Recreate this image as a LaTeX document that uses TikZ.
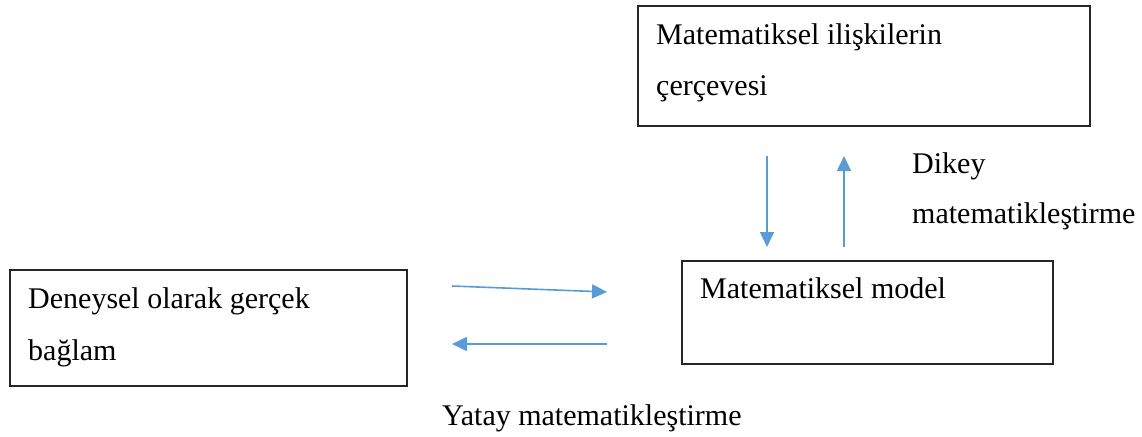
\documentclass[tikz,border=0pt]{standalone}
\usepackage{fontspec}
\setmainfont{Liberation Serif}
\usetikzlibrary{arrows.meta}
\definecolor{flowblue}{HTML}{5B9BD5}
\definecolor{edge}{HTML}{262626}
\begin{document}
\begin{tikzpicture}[x=1pt,y=-1pt,
  panel/.style={draw=edge, line width=1.8pt, inner sep=0pt, anchor=north west},
  txt/.style={anchor=base west, inner sep=0pt, font=\fontsize{30}{36}\selectfont},
  flow/.style={draw=flowblue, line width=1.6pt, -{Triangle[width=14pt,length=15pt]}}]
\useasboundingbox[fill=white] (0,0) rectangle (1142,436);

% boxes
\node[panel, minimum width=452pt, minimum height=120pt] (frame) at (637,5) {};
\node[panel, minimum width=397pt, minimum height=116pt] (context) at (9,269) {};
\node[panel, minimum width=371pt, minimum height=103pt] (model) at (681,260) {};

% box texts
\node[txt] (frameA) at (656,45) {Matematiksel ilişkilerin};
\node[txt] (frameB) at (656,95) {çerçevesi};
\node[txt] (ctxA) at (28,308) {Deneysel olarak gerçek};
\node[txt] (ctxB) at (28,360) {bağlam};
\node[txt] (modelA) at (700,298) {Matematiksel model};

% labels
\node[txt] (vlabA) at (912,173) {Dikey};
\node[txt] (vlabB) at (912,223) {matematikleştirme};
\node[txt] (hlab) at (442,425) {Yatay matematikleştirme};

% arrow end points
\coordinate (r1) at (452,286);
\coordinate (r2) at (607,292);
\coordinate (l1) at (607,344);
\coordinate (l2) at (452,344);
\coordinate (d1) at (767,156);
\coordinate (d2) at (767,247);
\coordinate (u1) at (844,247);
\coordinate (u2) at (844,156);

\draw[flow] (r1) -- (r2);
\draw[flow] (l1) -- (l2);
\draw[flow] (d1) -- (d2);
\draw[flow] (u1) -- (u2);
\end{tikzpicture}
\end{document}
